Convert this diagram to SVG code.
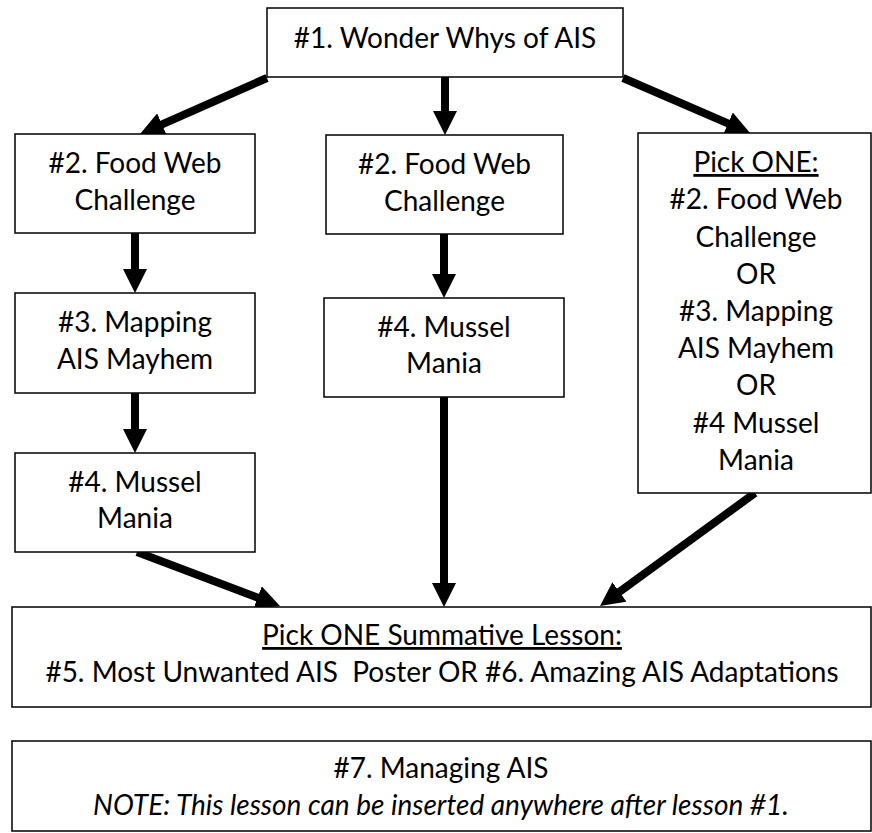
<svg xmlns="http://www.w3.org/2000/svg" width="872" height="833" viewBox="0 0 872 833">
<style>
.box{fill:#fff;stroke:#000;stroke-width:1.5}
.t{font-family:Lato,"Open Sans","Liberation Sans",sans-serif;font-size:28px;fill:#000;text-anchor:middle}
.u{text-decoration:underline}
.i{font-style:italic}
.arr{stroke:#000;stroke-width:8;fill:none;marker-end:url(#ah)}
</style>
<defs>
<marker id="ah" viewBox="0 0 10 10" refX="1" refY="5" markerWidth="3" markerHeight="3" orient="auto" markerUnits="strokeWidth">
<path d="M0,0 L10,5 L0,10 z" fill="#000"/>
</marker>
</defs>
<rect width="872" height="833" fill="#fff"/>
<g id="connectors">
<line class="arr" x1="445" y1="77" x2="445" y2="113.4"/>
<line class="arr" x1="135" y1="233" x2="135" y2="271.4"/>
<line class="arr" x1="135" y1="393" x2="135" y2="431.4"/>
<line class="arr" x1="444" y1="234" x2="444" y2="276.4"/>
<line class="arr" x1="444" y1="397" x2="444" y2="585.4"/>
<line class="arr" x1="267" y1="78" x2="159.8" y2="125.3"/>
<line class="arr" x1="623" y1="78" x2="730.2" y2="124.4"/>
<line class="arr" x1="137" y1="552" x2="259.8" y2="598.4"/>
<line class="arr" x1="755" y1="493" x2="617.5" y2="593.3"/>
</g>
<g id="n1">
<rect class="box" x="267" y="8" width="356" height="69"/>
<text class="t" x="445" y="48">#1. Wonder Whys of AIS</text>
</g>
<g id="n2a">
<rect class="box" x="15" y="134" width="240" height="99"/>
<text class="t" x="135" y="173">#2. Food Web</text>
<text class="t" x="135" y="210">Challenge</text>
</g>
<g id="n3a">
<rect class="box" x="15" y="293" width="240" height="100"/>
<text class="t" x="135" y="332">#3. Mapping</text>
<text class="t" x="135" y="369">AIS Mayhem</text>
</g>
<g id="n4a">
<rect class="box" x="15" y="453" width="240" height="99"/>
<text class="t" x="135" y="492">#4. Mussel</text>
<text class="t" x="135" y="528">Mania</text>
</g>
<g id="n2b">
<rect class="box" x="326" y="135" width="237" height="99"/>
<text class="t" x="444.5" y="174">#2. Food Web</text>
<text class="t" x="444.5" y="211">Challenge</text>
</g>
<g id="n4b">
<rect class="box" x="324" y="298" width="240" height="99"/>
<text class="t" x="444" y="337">#4. Mussel</text>
<text class="t" x="444" y="373">Mania</text>
</g>
<g id="npick">
<rect class="box" x="638" y="133" width="233" height="360"/>
<text class="t u" x="756" y="172">Pick ONE:</text>
<text class="t" x="756" y="209">#2. Food Web</text>
<text class="t" x="756" y="247">Challenge</text>
<text class="t" x="756" y="284">OR</text>
<text class="t" x="756" y="321">#3. Mapping</text>
<text class="t" x="756" y="358">AIS Mayhem</text>
<text class="t" x="756" y="395">OR</text>
<text class="t" x="756" y="433">#4 Mussel</text>
<text class="t" x="756" y="470">Mania</text>
</g>
<g id="nsum">
<rect class="box" x="12" y="607" width="859" height="100"/>
<text class="t u" x="442" y="645">Pick ONE Summative Lesson:</text>
<text class="t" x="442" y="682" xml:space="preserve">#5. Most Unwanted AIS  Poster OR #6. Amazing AIS Adaptations</text>
</g>
<g id="n7">
<rect class="box" x="12" y="741" width="859" height="90"/>
<text class="t" x="441" y="778">#7. Managing AIS</text>
<text class="t i" x="441" y="815">NOTE: This lesson can be inserted anywhere after lesson #1.</text>
</g>
</svg>
